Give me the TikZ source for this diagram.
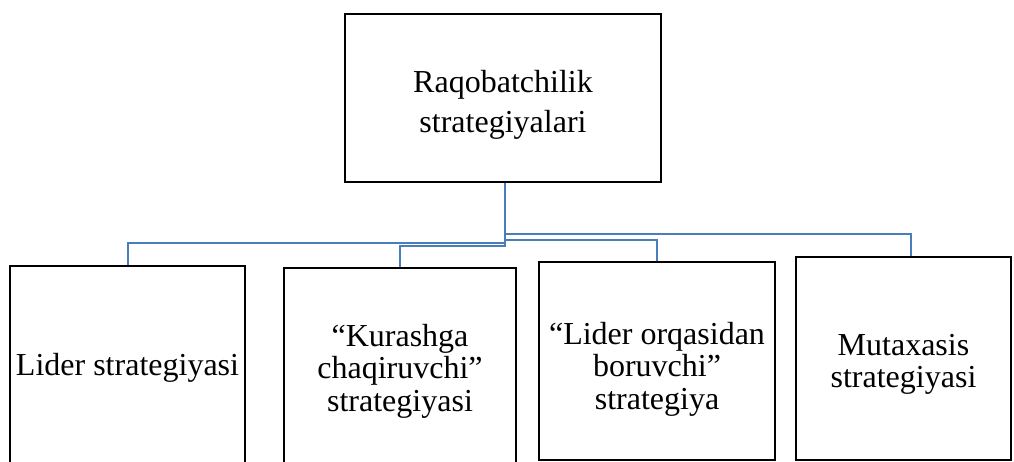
\documentclass[tikz,border=0pt]{standalone}
\usepackage{fontspec}
\setmainfont{Liberation Serif}
\usepackage{tikz}
\usetikzlibrary{calc}
\definecolor{linkBlue}{HTML}{4A7EBB}

\begin{document}
\begin{tikzpicture}[x=1pt,y=1pt,
  box/.style={draw=black,line width=2.2pt,inner sep=0pt},
  boxtext/.style={align=center,inner sep=0pt,
                  font=\fontsize{32}{32.5}\selectfont},
  link/.style={draw=linkBlue,line width=2pt}]
  \useasboundingbox (0,0) rectangle (1014,462);
  % top of the tree
  \node[box,minimum width=316,minimum height=168,
        label={[boxtext,font=\fontsize{32}{40}\selectfont,yshift=-7pt]center:Raqobatchilik\\strategiyalari}]
    (top) at (503,364) {};
  % the four strategies
  \node[box,minimum width=235,minimum height=204,
        label={[boxtext]center:Lider strategiyasi}]
    (lider) at (127.5,94) {};
  \node[box,minimum width=232,minimum height=202,
        label={[boxtext,yshift=-2pt]center:“Kurashga\\chaqiruvchi”\\strategiyasi}]
    (kurash) at (400,93) {};
  \node[box,minimum width=236,minimum height=198,
        label={[boxtext,yshift=-8pt]center:“Lider orqasidan\\boruvchi”\\strategiya}]
    (orqa) at (657,101) {};
  \node[box,minimum width=215,minimum height=203,
        label={[boxtext,yshift=-6pt]center:Mutaxasis\\strategiyasi}]
    (mutax) at (903.5,103.5) {};
  % connectors
  \draw[link] ([xshift=2pt]top.south) -- ++(0,-60) -| (lider.north);
  \draw[link] ([xshift=2pt]top.south) -- ++(0,-63) -| (kurash.north);
  \draw[link] ([xshift=2pt]top.south) -- ++(0,-57) -| (orqa.north);
  \draw[link] ([xshift=2pt]top.south) -- ++(0,-51) -| ([xshift=7pt]mutax.north);
\end{tikzpicture}
\end{document}
